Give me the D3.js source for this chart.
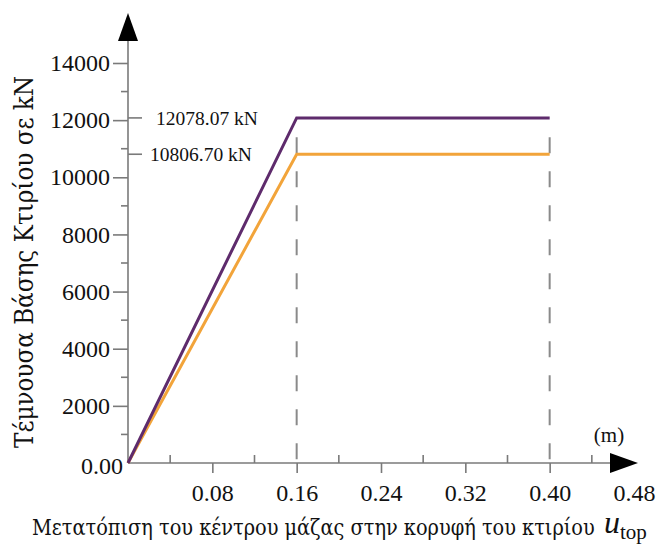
<!DOCTYPE html>
<html>
<head>
<meta charset="utf-8">
<script src="https://cdn.jsdelivr.net/npm/d3@7"></script>
<style>
  body { margin: 0; background: #fff; }
  svg text { font-family: "Liberation Serif", "DejaVu Serif", serif; fill: #111; }
  svg text.greek { font-family: "DejaVu Serif Condensed", "DejaVu Serif", "Liberation Serif", serif; font-stretch: condensed; }
</style>
</head>
<body>
<div id="chart"></div>
<script>
// pushover curves (displacement in m, base shear in kN)
const dispPoints = [0, 0.16, 0.40];
const shearUpper = [0, 12078.07, 12078.07];
const shearLower = [0, 10806.70, 10806.70];
const peakValues = [12078.07, 10806.70];
const peakLabels = ["12078.07 kN", "10806.70 kN"];
const xTicks = [0.08, 0.16, 0.24, 0.32, 0.40, 0.48];
const xMinorTicks = [0.04, 0.12, 0.20, 0.28, 0.36, 0.44];
const yTicks = [2000, 4000, 6000, 8000, 10000, 12000, 14000];
const yMinorTicks = [1000, 3000, 5000, 7000, 9000, 11000, 13000];
const dashedAt = [0.16, 0.40];

const width = 666, height = 545;
const axisColor = "#7a7a7a";

const svg = d3.select("#chart")
	.append("svg")
	.attr("width", width)
	.attr("height", height);

const x = d3.scaleLinear().domain([0, 0.48]).range([128, 634]);
const y = d3.scaleLinear().domain([0, 14000]).range([463, 63]);

// shrink/grow a text's font so it spans the wanted length
const fitText = (sel, target, size) => {
	sel.style("font-size", size + "px");
	const len = sel.node().getComputedTextLength();
	if (len > 0) sel.style("font-size", (size * target / len).toFixed(2) + "px");
	return sel;
};

//dashed guides
svg.selectAll(".guide")
	.data(dashedAt)
	.enter()
	.append("line")
	.attr("x1", d => x(d))
	.attr("x2", d => x(d))
	.attr("y1", y(11400))
	.attr("y2", y(0))
	.attr("stroke", "#8a8a8a")
	.attr("stroke-width", 2)
	.attr("stroke-dasharray", "16,18");

//axis lines
svg.append("line")
	.attr("x1", x(0)).attr("x2", 612)
	.attr("y1", y(0)).attr("y2", y(0))
	.attr("stroke", axisColor).attr("stroke-width", 1.6);
svg.append("line")
	.attr("x1", x(0)).attr("x2", x(0))
	.attr("y1", y(0)).attr("y2", 40)
	.attr("stroke", axisColor).attr("stroke-width", 1.6);

svg.append("polygon")
	.attr("points", `610,${y(0) - 10} 638,${y(0)} 610,${y(0) + 10}`)
	.attr("fill", "#000");
svg.append("polygon")
	.attr("points", `${x(0) - 10},41 ${x(0)},13 ${x(0) + 10},41`)
	.attr("fill", "#000");

//x axis ticks
const xAxis = svg.append("g")
	.attr("transform", `translate(0,${y(0)})`)
	.call(d3.axisBottom(x).tickValues(xTicks).tickFormat(d3.format(".2f")).tickSize(10).tickPadding(11));
xAxis.select(".domain").remove();
xAxis.attr("font-family", null);
xAxis.selectAll("line").attr("stroke", axisColor).attr("stroke-width", 1.6);
xAxis.selectAll("text").style("font-size", "24px").attr("fill", "#111");
xAxis.selectAll(".tick").filter(d => d > 0.45).select("line").remove();

svg.append("g")
	.selectAll("line")
	.data(xMinorTicks)
	.enter()
	.append("line")
	.attr("x1", d => x(d)).attr("x2", d => x(d))
	.attr("y1", y(0)).attr("y2", y(0) - 8)
	.attr("stroke", axisColor).attr("stroke-width", 1.6);

//y axis ticks
const yAxis = svg.append("g")
	.attr("transform", `translate(${x(0)},0)`)
	.call(d3.axisLeft(y).tickValues(yTicks).tickFormat(d3.format("d")).tickSize(15).tickPadding(3));
yAxis.select(".domain").remove();
yAxis.attr("font-family", null);
yAxis.selectAll("line").attr("stroke", axisColor).attr("stroke-width", 1.6);
yAxis.selectAll("text").style("font-size", "24px").attr("fill", "#111");

svg.append("g")
	.selectAll("line")
	.data(yMinorTicks)
	.enter()
	.append("line")
	.attr("x1", x(0) - 7).attr("x2", x(0))
	.attr("y1", d => y(d)).attr("y2", d => y(d))
	.attr("stroke", axisColor).attr("stroke-width", 1.6);

svg.append("text")
	.attr("x", x(0) - 5)
	.attr("y", y(0) + 11)
	.attr("text-anchor", "end")
	.style("font-size", "24px")
	.text("0.00");

//peak markers
svg.append("g")
	.selectAll("line")
	.data(peakValues)
	.enter()
	.append("line")
	.attr("x1", x(0)).attr("x2", x(0) + 14)
	.attr("y1", d => y(d)).attr("y2", d => y(d))
	.attr("stroke", axisColor).attr("stroke-width", 1.6);

svg.append("g")
	.selectAll("text")
	.data(peakValues)
	.enter()
	.append("text")
	.attr("x", (d, i) => (i === 0 ? 156 : 150))
	.attr("y", d => y(d))
	.attr("dy", "0.35em")
	.style("font-size", "19.5px")
	.text((d, i) => peakLabels[i]);

//curves
const line = d3.line()
	.x(d => x(d[0]))
	.y(d => y(d[1]));

svg.append("path")
	.datum(dispPoints.map((d, i) => [d, shearLower[i]]))
	.attr("d", line)
	.attr("fill", "none")
	.attr("stroke", "#f2a43a")
	.attr("stroke-width", 3);

svg.append("path")
	.datum(dispPoints.map((d, i) => [d, shearUpper[i]]))
	.attr("d", line)
	.attr("fill", "none")
	.attr("stroke", "#5e2b6c")
	.attr("stroke-width", 3);

//titles
svg.append("text")
	.attr("x", 609)
	.attr("y", 442)
	.attr("text-anchor", "middle")
	.style("font-size", "21px")
	.text("(m)");

const xTitle = svg.append("text")
	.attr("class", "greek")
	.attr("x", 32)
	.attr("y", 535)
	.text("Μετατόπιση του κέντρου μάζας στην κορυφή του κτιρίου");
fitText(xTitle, 563, 22);

const uLabel = svg.append("text")
	.attr("x", 604)
	.attr("y", 533);
uLabel.append("tspan")
	.style("font-size", "32px")
	.style("font-style", "italic")
	.text("u");
uLabel.append("tspan")
	.attr("dy", 6)
	.style("font-size", "21px")
	.text("top");

const yTitle = svg.append("text")
	.attr("class", "greek")
	.attr("transform", "translate(33,262) rotate(-90)")
	.attr("text-anchor", "middle")
	.text("Τέμνουσα Βάσης Κτιρίου σε kN");
fitText(yTitle, 372, 22);
</script>
</body>
</html>
